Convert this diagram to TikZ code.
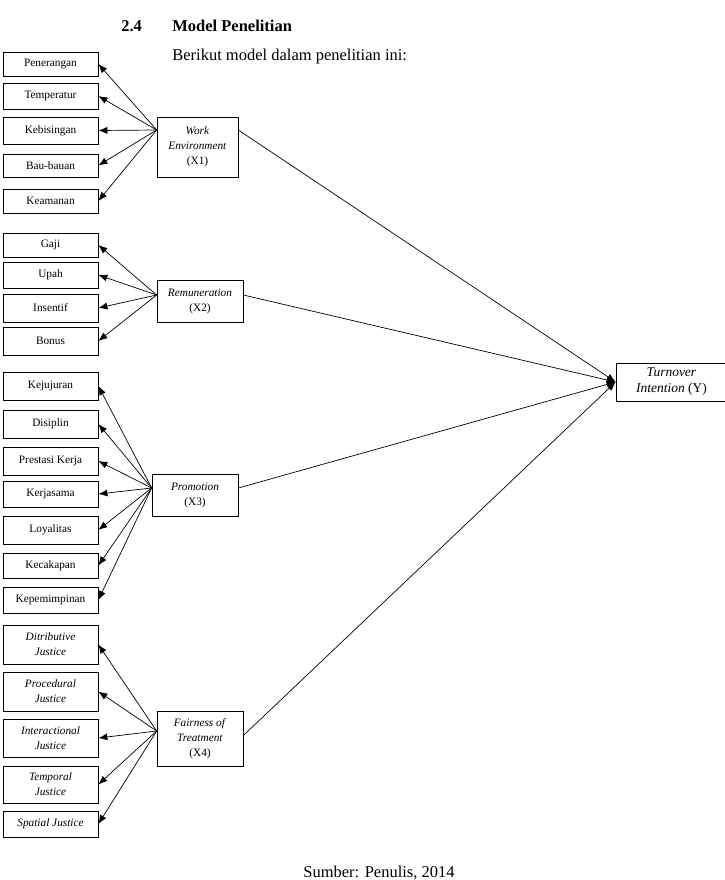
\documentclass[tikz,border=0pt]{standalone}
\usepackage{fontspec}
\setmainfont{Liberation Serif}
\usetikzlibrary{arrows.meta}
\begin{document}
\begin{tikzpicture}[x=1pt, y=-1pt, line width=0.7pt,
  ind/.style={draw, align=center, minimum width=95pt, inner sep=1pt, font=\fontsize{11.3}{15}\selectfont},
  var/.style={draw, align=center, inner sep=1pt, font=\fontsize{11.3}{15}\selectfont},
  txt/.style={anchor=base west, inner sep=0pt, font=\fontsize{16.5}{20}\selectfont},
  tip/.style={-{Latex[length=9pt,width=7pt]}}]
\useasboundingbox (0,0) rectangle (724,880);
% heading
\node[txt, font=\fontsize{16.5}{20}\selectfont\bfseries] (sec) at (121,32) {2.4};
\node[txt, font=\fontsize{16.5}{20}\selectfont\bfseries] (title) at (172,32) {Model Penelitian};
\node[txt] (intro) at (172,61) {Berikut model dalam penelitian ini:};
% indicators
\node[ind, minimum height=24pt] (pen) at (50.5,64) {Penerangan};
\node[ind, minimum height=26pt] (temp) at (50.5,96) {Temperatur};
\node[ind, minimum height=27pt] (bising) at (50.5,130.5) {Kebisingan};
\node[ind, minimum height=23pt] (bau) at (50.5,165.5) {Bau-bauan};
\node[ind, minimum height=24pt] (aman) at (50.5,201) {Keamanan};
\node[ind, minimum height=24pt] (gaji) at (50.5,245) {Gaji};
\node[ind, minimum height=26pt] (upah) at (50.5,275) {Upah};
\node[ind, minimum height=28pt] (insentif) at (50.5,308) {Insentif};
\node[ind, minimum height=28pt] (bonus) at (50.5,341) {Bonus};
\node[ind, minimum height=28pt] (jujur) at (50.5,386) {Kejujuran};
\node[ind, minimum height=28pt] (disiplin) at (50.5,424) {Disiplin};
\node[ind, minimum height=28pt] (prestasi) at (50.5,461) {Prestasi Kerja};
\node[ind, minimum height=26pt] (kerjasama) at (50.5,494) {Kerjasama};
\node[ind, minimum height=28pt] (loyal) at (50.5,530) {Loyalitas};
\node[ind, minimum height=25pt] (cakap) at (50.5,565.5) {Kecakapan};
\node[ind, minimum height=26pt] (pimpin) at (50.5,600) {Kepemimpinan};
\node[ind, minimum height=39pt] (distr) at (50.5,644.5) {\textit{Ditributive}\\\textit{Justice}};
\node[ind, minimum height=39pt] (proc) at (50.5,691.5) {\textit{Procedural}\\\textit{Justice}};
\node[ind, minimum height=38pt] (inter) at (50.5,738) {\textit{Interactional}\\\textit{Justice}};
\node[ind, minimum height=37pt] (temporal) at (50.5,784.5) {\textit{Temporal}\\\textit{Justice}};
\node[ind, minimum height=26pt] (spatial) at (50.5,824) {\textit{Spatial Justice}};
% variables
\node[var, minimum width=81pt, minimum height=60pt] (work) at (197.5,147) {\textit{Work}\\\textit{Environment}\\(X1)};
\node[var, minimum width=86pt, minimum height=42pt] (remun) at (200,301) {\textit{Remuneration}\\(X2)};
\node[var, minimum width=86pt, minimum height=42pt] (promo) at (195,495) {\textit{Promotion}\\(X3)};
\node[var, minimum width=86pt, minimum height=55pt] (fair) at (200,738.5) {\textit{Fairness of}\\\textit{Treatment}\\(X4)};
\node[var, minimum width=111pt, minimum height=38pt, font=\fontsize{13.5}{16}\selectfont] (turn) at (671.5,382) {\textit{Turnover}\\\textit{Intention} (Y)};
% X1
\draw[tip] ([yshift=17pt]work.west) -- (pen.east);
\draw[tip] ([yshift=17pt]work.west) -- (temp.east);
\draw[tip] ([yshift=17pt]work.west) -- (bising.east);
\draw[tip] ([yshift=17pt]work.west) -- (bau.east);
\draw[tip] ([yshift=17pt]work.west) -- (aman.east);
% X2
\draw[tip] ([yshift=6pt]remun.west) -- (gaji.east);
\draw[tip] ([yshift=6pt]remun.west) -- (upah.east);
\draw[tip] ([yshift=6pt]remun.west) -- (insentif.east);
\draw[tip] ([yshift=6pt]remun.west) -- (bonus.east);
% X3
\draw[tip] ([yshift=7pt]promo.west) -- (jujur.east);
\draw[tip] ([yshift=7pt]promo.west) -- (disiplin.east);
\draw[tip] ([yshift=7pt]promo.west) -- (prestasi.east);
\draw[tip] ([yshift=7pt]promo.west) -- (kerjasama.east);
\draw[tip] ([yshift=7pt]promo.west) -- (loyal.east);
\draw[tip] ([yshift=7pt]promo.west) -- (cakap.east);
\draw[tip] ([yshift=7pt]promo.west) -- (pimpin.east);
% X4
\draw[tip] ([yshift=7.5pt]fair.west) -- (distr.east);
\draw[tip] ([yshift=7.5pt]fair.west) -- (proc.east);
\draw[tip] ([yshift=7.5pt]fair.west) -- (inter.east);
\draw[tip] ([yshift=7.5pt]fair.west) -- (temporal.east);
\draw[tip] ([yshift=7.5pt]fair.west) -- (spatial.east);
% to Y
\draw[tip] ([yshift=17pt]work.east) -- (turn.west);
\draw[tip] ([yshift=6pt]remun.east) -- (turn.west);
\draw[tip] ([yshift=7pt]promo.east) -- (turn.west);
\draw[tip] ([yshift=3pt]fair.east) -- (turn.west);
% source
\node[txt] (source) at (303,877) {Sumber: Penulis, 2014};
\end{tikzpicture}
\end{document}
